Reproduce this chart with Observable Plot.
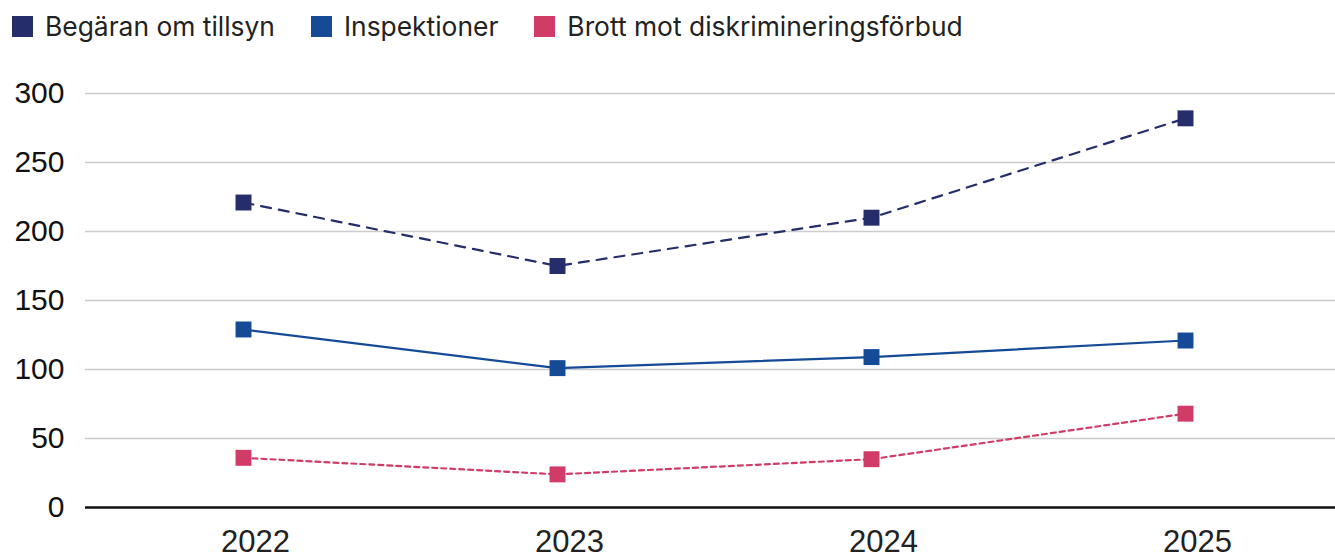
<!DOCTYPE html>
<html><head><meta charset="utf-8">
<script src="https://cdn.jsdelivr.net/npm/d3@7"></script>
<script src="https://cdn.jsdelivr.net/npm/@observablehq/plot@0.6"></script>
<style>
body{margin:0;background:#fff;font-family:Inter,"Noto Sans",sans-serif;}
#legend{height:52px;display:flex;align-items:center;padding-left:12px;font-size:26.4px;color:#222;}
#legend .item{display:flex;align-items:center;margin-right:36px;}
#legend .sw{width:21px;height:21px;margin-right:12px;}
</style></head><body>
<div id="legend"></div>
<div id="chart"></div>
<script>
const years = ["2022","2023","2024","2025"];
const seriesNames = ["Begäran om tillsyn","Inspektioner","Brott mot diskrimineringsförbud"];
const begaran = [221,175,210,282];
const inspektioner = [129,101,109,121];
const brott = [36,24,35,68];
const colors = ["#252d6a","#154a96","#d03c67"];
const dashes = ["10,8","none","5,4"];
const yTicks = [0,50,100,150,200,250,300];

const values = [begaran, inspektioner, brott];
const data = [];
seriesNames.forEach((s,i)=>years.forEach((y,j)=>data.push({series:s, year:y, value:values[i][j]})));

const leg = document.getElementById("legend");
seriesNames.forEach((s,i)=>{
  const it=document.createElement("div");it.className="item";
  it.innerHTML=`<span class="sw" style="background:${colors[i]}"></span><span>${s}</span>`;
  leg.appendChild(it);
});

const marks = [
  Plot.gridY(yTicks,{stroke:"#cccccc",strokeOpacity:1,strokeWidth:1.5}),
  Plot.axisY(yTicks,{tickSize:0,tickPadding:21,fontSize:30,fontFamily:"Liberation Sans, Arial, sans-serif",fill:"#111"}),
  Plot.axisX({tickSize:0,tickPadding:22,dx:12,fontSize:31,fontFamily:"Liberation Sans, Arial, sans-serif",fill:"#222"}),
  Plot.ruleY([0],{stroke:"#111",strokeWidth:2.5})
];
seriesNames.forEach((s,i)=>{
  const d = data.filter(r=>r.series===s);
  marks.push(Plot.line(d,{x:"year",y:"value",stroke:colors[i],strokeWidth:2.2,strokeDasharray:dashes[i]}));
  marks.push(Plot.dot(d,{x:"year",y:"value",symbol:"square",fill:colors[i],r:9}));
});

const chart = Plot.plot({
  width:1335,height:504,
  marginLeft:85,marginRight:0,marginTop:41,marginBottom:49,
  x:{type:"point",domain:years,padding:0,insetLeft:158,insetRight:150,label:null},
  y:{domain:[0,300],label:null},
  style:{background:"#fff",overflow:"visible"},
  marks
});
document.getElementById("chart").appendChild(chart);
</script>
</body></html>
